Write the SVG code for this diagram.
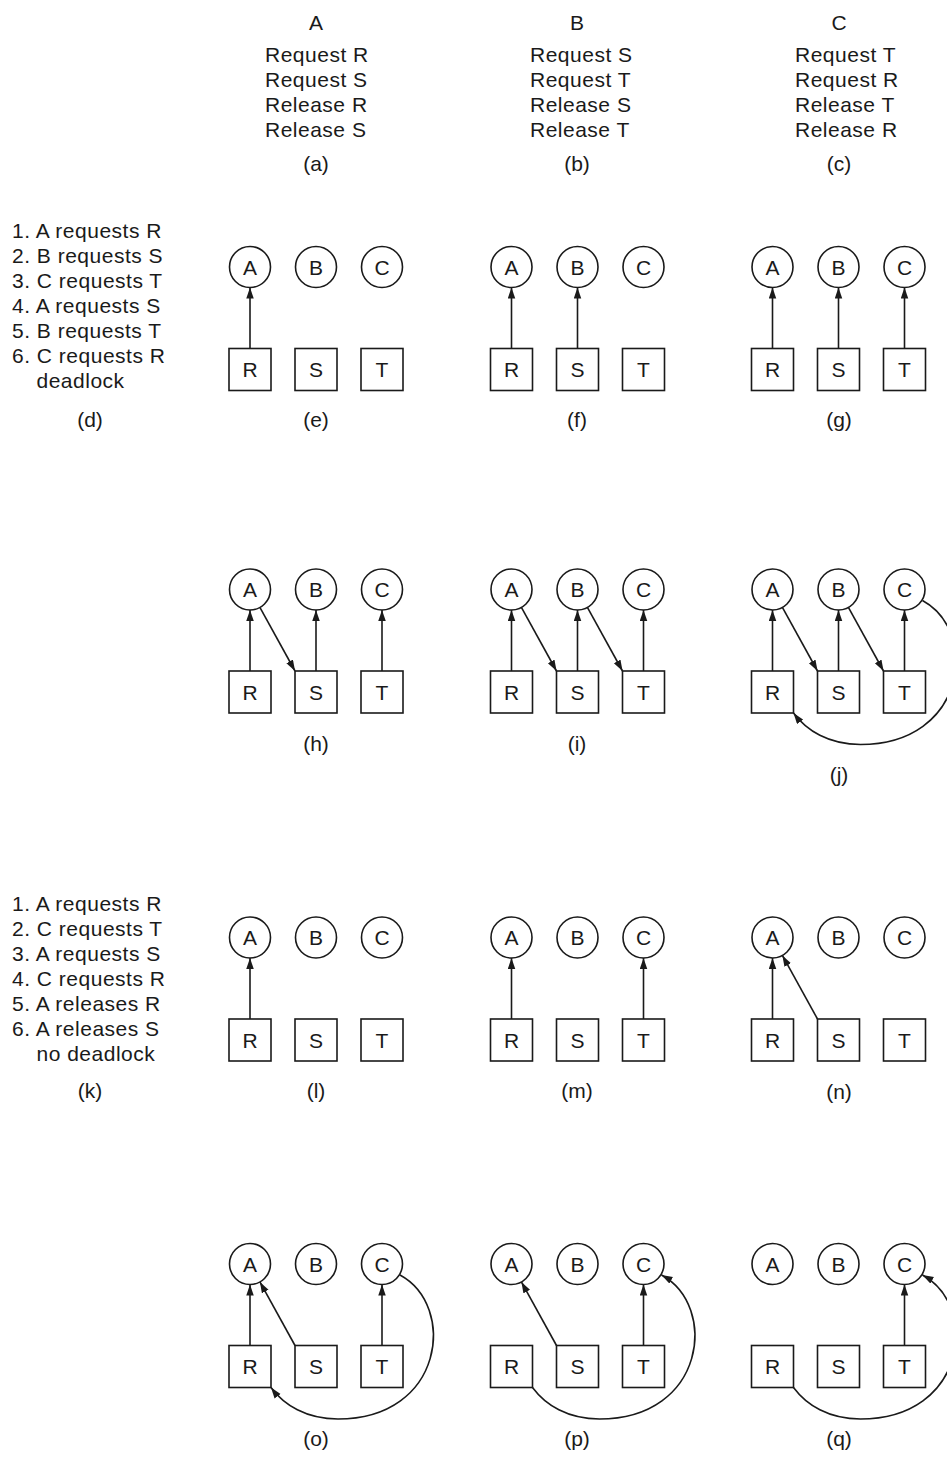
<svg xmlns="http://www.w3.org/2000/svg" width="947" height="1461" viewBox="0 0 947 1461">
<defs>
<style>
.node circle, .node rect { fill:#fff; stroke:#1a1a1a; stroke-width:1.6; }
.node text { font-family:"Liberation Sans", Arial, sans-serif; font-size:21px; text-anchor:middle; fill:#1a1a1a; }
.txt { font-family:"Liberation Sans", Arial, sans-serif; font-size:21px; letter-spacing:0.5px; fill:#1a1a1a; }
.mid { text-anchor:middle; letter-spacing:0; }
.edge { stroke:#1a1a1a; stroke-width:1.6; fill:none; marker-end:url(#ah); }
</style>
<marker id="ah" markerUnits="userSpaceOnUse" markerWidth="12" markerHeight="8" refX="11" refY="3.75" orient="auto">
<path d="M0,0 L11,3.75 L0,7.5 Z" fill="#1a1a1a"/>
</marker>
</defs>
<rect width="947" height="1461" fill="#fff"/>

<g id="programs">
<text class="txt mid" x="316" y="30">A</text>
<text class="txt" x="265" y="62">Request R</text>
<text class="txt" x="265" y="87">Request S</text>
<text class="txt" x="265" y="112">Release R</text>
<text class="txt" x="265" y="137">Release S</text>
<text class="txt mid" x="316" y="171">(a)</text>
<text class="txt mid" x="577" y="30">B</text>
<text class="txt" x="530" y="62">Request S</text>
<text class="txt" x="530" y="87">Request T</text>
<text class="txt" x="530" y="112">Release S</text>
<text class="txt" x="530" y="137">Release T</text>
<text class="txt mid" x="577" y="171">(b)</text>
<text class="txt mid" x="839" y="30">C</text>
<text class="txt" x="795" y="62">Request T</text>
<text class="txt" x="795" y="87">Request R</text>
<text class="txt" x="795" y="112">Release T</text>
<text class="txt" x="795" y="137">Release R</text>
<text class="txt mid" x="839" y="171">(c)</text>
</g>

<g id="list-d">
<text class="txt" x="12" y="238">1. A requests R</text>
<text class="txt" x="12" y="263">2. B requests S</text>
<text class="txt" x="12" y="288">3. C requests T</text>
<text class="txt" x="12" y="313">4. A requests S</text>
<text class="txt" x="12" y="338">5. B requests T</text>
<text class="txt" x="12" y="363">6. C requests R</text>
<text class="txt" x="36.5" y="388">deadlock</text>
<text class="txt mid" x="90" y="427">(d)</text>
</g>

<g id="list-k">
<text class="txt" x="12" y="911">1. A requests R</text>
<text class="txt" x="12" y="936">2. C requests T</text>
<text class="txt" x="12" y="961">3. A requests S</text>
<text class="txt" x="12" y="986">4. C requests R</text>
<text class="txt" x="12" y="1011">5. A releases R</text>
<text class="txt" x="12" y="1036">6. A releases S</text>
<text class="txt" x="36.5" y="1061">no deadlock</text>
<text class="txt mid" x="90" y="1098">(k)</text>
</g>

<g id="panel-labels">
<text class="txt mid" x="316" y="427">(e)</text>
<text class="txt mid" x="577" y="427">(f)</text>
<text class="txt mid" x="839" y="427">(g)</text>
<text class="txt mid" x="316" y="751">(h)</text>
<text class="txt mid" x="577" y="751">(i)</text>
<text class="txt mid" x="839" y="782">(j)</text>
<text class="txt mid" x="316" y="1098">(l)</text>
<text class="txt mid" x="577" y="1098">(m)</text>
<text class="txt mid" x="839" y="1099">(n)</text>
<text class="txt mid" x="316" y="1446">(o)</text>
<text class="txt mid" x="577" y="1446">(p)</text>
<text class="txt mid" x="839" y="1446">(q)</text>
</g>

<g id="connectors">
<!-- e -->
<path class="edge" d="M250,348.5 L250,287.5"/>
<!-- f -->
<path class="edge" d="M511.5,348.5 L511.5,287.5"/>
<path class="edge" d="M577.5,348.5 L577.5,287.5"/>
<!-- g -->
<path class="edge" d="M772.5,348.5 L772.5,287.5"/>
<path class="edge" d="M838.5,348.5 L838.5,287.5"/>
<path class="edge" d="M904.5,348.5 L904.5,287.5"/>
<!-- h -->
<path class="edge" d="M250,671 L250,610"/>
<path class="edge" d="M259.9,607.4 L295,671"/>
<path class="edge" d="M316,671 L316,610"/>
<path class="edge" d="M382,671 L382,610"/>
<!-- i -->
<path class="edge" d="M511.5,671 L511.5,610"/>
<path class="edge" d="M521.4,607.4 L556.5,671"/>
<path class="edge" d="M577.5,671 L577.5,610"/>
<path class="edge" d="M587.4,607.4 L622.5,671"/>
<path class="edge" d="M643.5,671 L643.5,610"/>
<!-- j -->
<path class="edge" d="M772.5,671 L772.5,610"/>
<path class="edge" d="M782.4,607.4 L817.5,671"/>
<path class="edge" d="M838.5,671 L838.5,610"/>
<path class="edge" d="M848.4,607.4 L883.5,671"/>
<path class="edge" d="M904.5,671 L904.5,610"/>
<path class="edge" d="M922.5,600.5 C979.5,631.5 966.5,744.5 860.5,744.5 C828.5,744.5 806.5,730.5 793.5,713"/>
<!-- l -->
<path class="edge" d="M250,1019 L250,958"/>
<!-- m -->
<path class="edge" d="M511.5,1019 L511.5,958"/>
<path class="edge" d="M643.5,1019 L643.5,958"/>
<!-- n -->
<path class="edge" d="M772.5,1019 L772.5,958"/>
<path class="edge" d="M817.5,1019 L782.4,955.4"/>
<!-- o -->
<path class="edge" d="M250,1345.5 L250,1284.5"/>
<path class="edge" d="M295,1345.5 L259.9,1281.9"/>
<path class="edge" d="M382,1345.5 L382,1284.5"/>
<path class="edge" d="M400,1275 C457,1306 444,1419 338,1419 C306,1419 284,1405 271,1387.5"/>
<!-- p -->
<path class="edge" d="M556.5,1345.5 L521.4,1281.9"/>
<path class="edge" d="M643.5,1345.5 L643.5,1284.5"/>
<path class="edge" d="M532.5,1387.5 C545.5,1405 567.5,1419 599.5,1419 C705.5,1419 718.5,1306 661.5,1275"/>
<!-- q -->
<path class="edge" d="M904.5,1345.5 L904.5,1284.5"/>
<path class="edge" d="M793.5,1387.5 C806.5,1405 828.5,1419 860.5,1419 C966.5,1419 979.5,1306 922.5,1275"/>
</g>

<g id="panel-e">
<g id="e-A" class="node"><circle cx="250" cy="267" r="20.5"/><text x="250" y="274.5">A</text></g>
<g id="e-B" class="node"><circle cx="316" cy="267" r="20.5"/><text x="316" y="274.5">B</text></g>
<g id="e-C" class="node"><circle cx="382" cy="267" r="20.5"/><text x="382" y="274.5">C</text></g>
<g id="e-R" class="node"><rect x="229" y="348.5" width="42" height="42"/><text x="250" y="377">R</text></g>
<g id="e-S" class="node"><rect x="295" y="348.5" width="42" height="42"/><text x="316" y="377">S</text></g>
<g id="e-T" class="node"><rect x="361" y="348.5" width="42" height="42"/><text x="382" y="377">T</text></g>
</g>
<g id="panel-f">
<g id="f-A" class="node"><circle cx="511.5" cy="267" r="20.5"/><text x="511.5" y="274.5">A</text></g>
<g id="f-B" class="node"><circle cx="577.5" cy="267" r="20.5"/><text x="577.5" y="274.5">B</text></g>
<g id="f-C" class="node"><circle cx="643.5" cy="267" r="20.5"/><text x="643.5" y="274.5">C</text></g>
<g id="f-R" class="node"><rect x="490.5" y="348.5" width="42" height="42"/><text x="511.5" y="377">R</text></g>
<g id="f-S" class="node"><rect x="556.5" y="348.5" width="42" height="42"/><text x="577.5" y="377">S</text></g>
<g id="f-T" class="node"><rect x="622.5" y="348.5" width="42" height="42"/><text x="643.5" y="377">T</text></g>
</g>
<g id="panel-g">
<g id="g-A" class="node"><circle cx="772.5" cy="267" r="20.5"/><text x="772.5" y="274.5">A</text></g>
<g id="g-B" class="node"><circle cx="838.5" cy="267" r="20.5"/><text x="838.5" y="274.5">B</text></g>
<g id="g-C" class="node"><circle cx="904.5" cy="267" r="20.5"/><text x="904.5" y="274.5">C</text></g>
<g id="g-R" class="node"><rect x="751.5" y="348.5" width="42" height="42"/><text x="772.5" y="377">R</text></g>
<g id="g-S" class="node"><rect x="817.5" y="348.5" width="42" height="42"/><text x="838.5" y="377">S</text></g>
<g id="g-T" class="node"><rect x="883.5" y="348.5" width="42" height="42"/><text x="904.5" y="377">T</text></g>
</g>

<g id="panel-h">
<g id="h-A" class="node"><circle cx="250" cy="589.5" r="20.5"/><text x="250" y="597">A</text></g>
<g id="h-B" class="node"><circle cx="316" cy="589.5" r="20.5"/><text x="316" y="597">B</text></g>
<g id="h-C" class="node"><circle cx="382" cy="589.5" r="20.5"/><text x="382" y="597">C</text></g>
<g id="h-R" class="node"><rect x="229" y="671" width="42" height="42"/><text x="250" y="699.5">R</text></g>
<g id="h-S" class="node"><rect x="295" y="671" width="42" height="42"/><text x="316" y="699.5">S</text></g>
<g id="h-T" class="node"><rect x="361" y="671" width="42" height="42"/><text x="382" y="699.5">T</text></g>
</g>
<g id="panel-i">
<g id="i-A" class="node"><circle cx="511.5" cy="589.5" r="20.5"/><text x="511.5" y="597">A</text></g>
<g id="i-B" class="node"><circle cx="577.5" cy="589.5" r="20.5"/><text x="577.5" y="597">B</text></g>
<g id="i-C" class="node"><circle cx="643.5" cy="589.5" r="20.5"/><text x="643.5" y="597">C</text></g>
<g id="i-R" class="node"><rect x="490.5" y="671" width="42" height="42"/><text x="511.5" y="699.5">R</text></g>
<g id="i-S" class="node"><rect x="556.5" y="671" width="42" height="42"/><text x="577.5" y="699.5">S</text></g>
<g id="i-T" class="node"><rect x="622.5" y="671" width="42" height="42"/><text x="643.5" y="699.5">T</text></g>
</g>
<g id="panel-j">
<g id="j-A" class="node"><circle cx="772.5" cy="589.5" r="20.5"/><text x="772.5" y="597">A</text></g>
<g id="j-B" class="node"><circle cx="838.5" cy="589.5" r="20.5"/><text x="838.5" y="597">B</text></g>
<g id="j-C" class="node"><circle cx="904.5" cy="589.5" r="20.5"/><text x="904.5" y="597">C</text></g>
<g id="j-R" class="node"><rect x="751.5" y="671" width="42" height="42"/><text x="772.5" y="699.5">R</text></g>
<g id="j-S" class="node"><rect x="817.5" y="671" width="42" height="42"/><text x="838.5" y="699.5">S</text></g>
<g id="j-T" class="node"><rect x="883.5" y="671" width="42" height="42"/><text x="904.5" y="699.5">T</text></g>
</g>

<g id="panel-l">
<g id="l-A" class="node"><circle cx="250" cy="937.5" r="20.5"/><text x="250" y="945">A</text></g>
<g id="l-B" class="node"><circle cx="316" cy="937.5" r="20.5"/><text x="316" y="945">B</text></g>
<g id="l-C" class="node"><circle cx="382" cy="937.5" r="20.5"/><text x="382" y="945">C</text></g>
<g id="l-R" class="node"><rect x="229" y="1019" width="42" height="42"/><text x="250" y="1047.5">R</text></g>
<g id="l-S" class="node"><rect x="295" y="1019" width="42" height="42"/><text x="316" y="1047.5">S</text></g>
<g id="l-T" class="node"><rect x="361" y="1019" width="42" height="42"/><text x="382" y="1047.5">T</text></g>
</g>
<g id="panel-m">
<g id="m-A" class="node"><circle cx="511.5" cy="937.5" r="20.5"/><text x="511.5" y="945">A</text></g>
<g id="m-B" class="node"><circle cx="577.5" cy="937.5" r="20.5"/><text x="577.5" y="945">B</text></g>
<g id="m-C" class="node"><circle cx="643.5" cy="937.5" r="20.5"/><text x="643.5" y="945">C</text></g>
<g id="m-R" class="node"><rect x="490.5" y="1019" width="42" height="42"/><text x="511.5" y="1047.5">R</text></g>
<g id="m-S" class="node"><rect x="556.5" y="1019" width="42" height="42"/><text x="577.5" y="1047.5">S</text></g>
<g id="m-T" class="node"><rect x="622.5" y="1019" width="42" height="42"/><text x="643.5" y="1047.5">T</text></g>
</g>
<g id="panel-n">
<g id="n-A" class="node"><circle cx="772.5" cy="937.5" r="20.5"/><text x="772.5" y="945">A</text></g>
<g id="n-B" class="node"><circle cx="838.5" cy="937.5" r="20.5"/><text x="838.5" y="945">B</text></g>
<g id="n-C" class="node"><circle cx="904.5" cy="937.5" r="20.5"/><text x="904.5" y="945">C</text></g>
<g id="n-R" class="node"><rect x="751.5" y="1019" width="42" height="42"/><text x="772.5" y="1047.5">R</text></g>
<g id="n-S" class="node"><rect x="817.5" y="1019" width="42" height="42"/><text x="838.5" y="1047.5">S</text></g>
<g id="n-T" class="node"><rect x="883.5" y="1019" width="42" height="42"/><text x="904.5" y="1047.5">T</text></g>
</g>

<g id="panel-o">
<g id="o-A" class="node"><circle cx="250" cy="1264" r="20.5"/><text x="250" y="1271.5">A</text></g>
<g id="o-B" class="node"><circle cx="316" cy="1264" r="20.5"/><text x="316" y="1271.5">B</text></g>
<g id="o-C" class="node"><circle cx="382" cy="1264" r="20.5"/><text x="382" y="1271.5">C</text></g>
<g id="o-R" class="node"><rect x="229" y="1345.5" width="42" height="42"/><text x="250" y="1374">R</text></g>
<g id="o-S" class="node"><rect x="295" y="1345.5" width="42" height="42"/><text x="316" y="1374">S</text></g>
<g id="o-T" class="node"><rect x="361" y="1345.5" width="42" height="42"/><text x="382" y="1374">T</text></g>
</g>
<g id="panel-p">
<g id="p-A" class="node"><circle cx="511.5" cy="1264" r="20.5"/><text x="511.5" y="1271.5">A</text></g>
<g id="p-B" class="node"><circle cx="577.5" cy="1264" r="20.5"/><text x="577.5" y="1271.5">B</text></g>
<g id="p-C" class="node"><circle cx="643.5" cy="1264" r="20.5"/><text x="643.5" y="1271.5">C</text></g>
<g id="p-R" class="node"><rect x="490.5" y="1345.5" width="42" height="42"/><text x="511.5" y="1374">R</text></g>
<g id="p-S" class="node"><rect x="556.5" y="1345.5" width="42" height="42"/><text x="577.5" y="1374">S</text></g>
<g id="p-T" class="node"><rect x="622.5" y="1345.5" width="42" height="42"/><text x="643.5" y="1374">T</text></g>
</g>
<g id="panel-q">
<g id="q-A" class="node"><circle cx="772.5" cy="1264" r="20.5"/><text x="772.5" y="1271.5">A</text></g>
<g id="q-B" class="node"><circle cx="838.5" cy="1264" r="20.5"/><text x="838.5" y="1271.5">B</text></g>
<g id="q-C" class="node"><circle cx="904.5" cy="1264" r="20.5"/><text x="904.5" y="1271.5">C</text></g>
<g id="q-R" class="node"><rect x="751.5" y="1345.5" width="42" height="42"/><text x="772.5" y="1374">R</text></g>
<g id="q-S" class="node"><rect x="817.5" y="1345.5" width="42" height="42"/><text x="838.5" y="1374">S</text></g>
<g id="q-T" class="node"><rect x="883.5" y="1345.5" width="42" height="42"/><text x="904.5" y="1374">T</text></g>
</g>
</svg>
